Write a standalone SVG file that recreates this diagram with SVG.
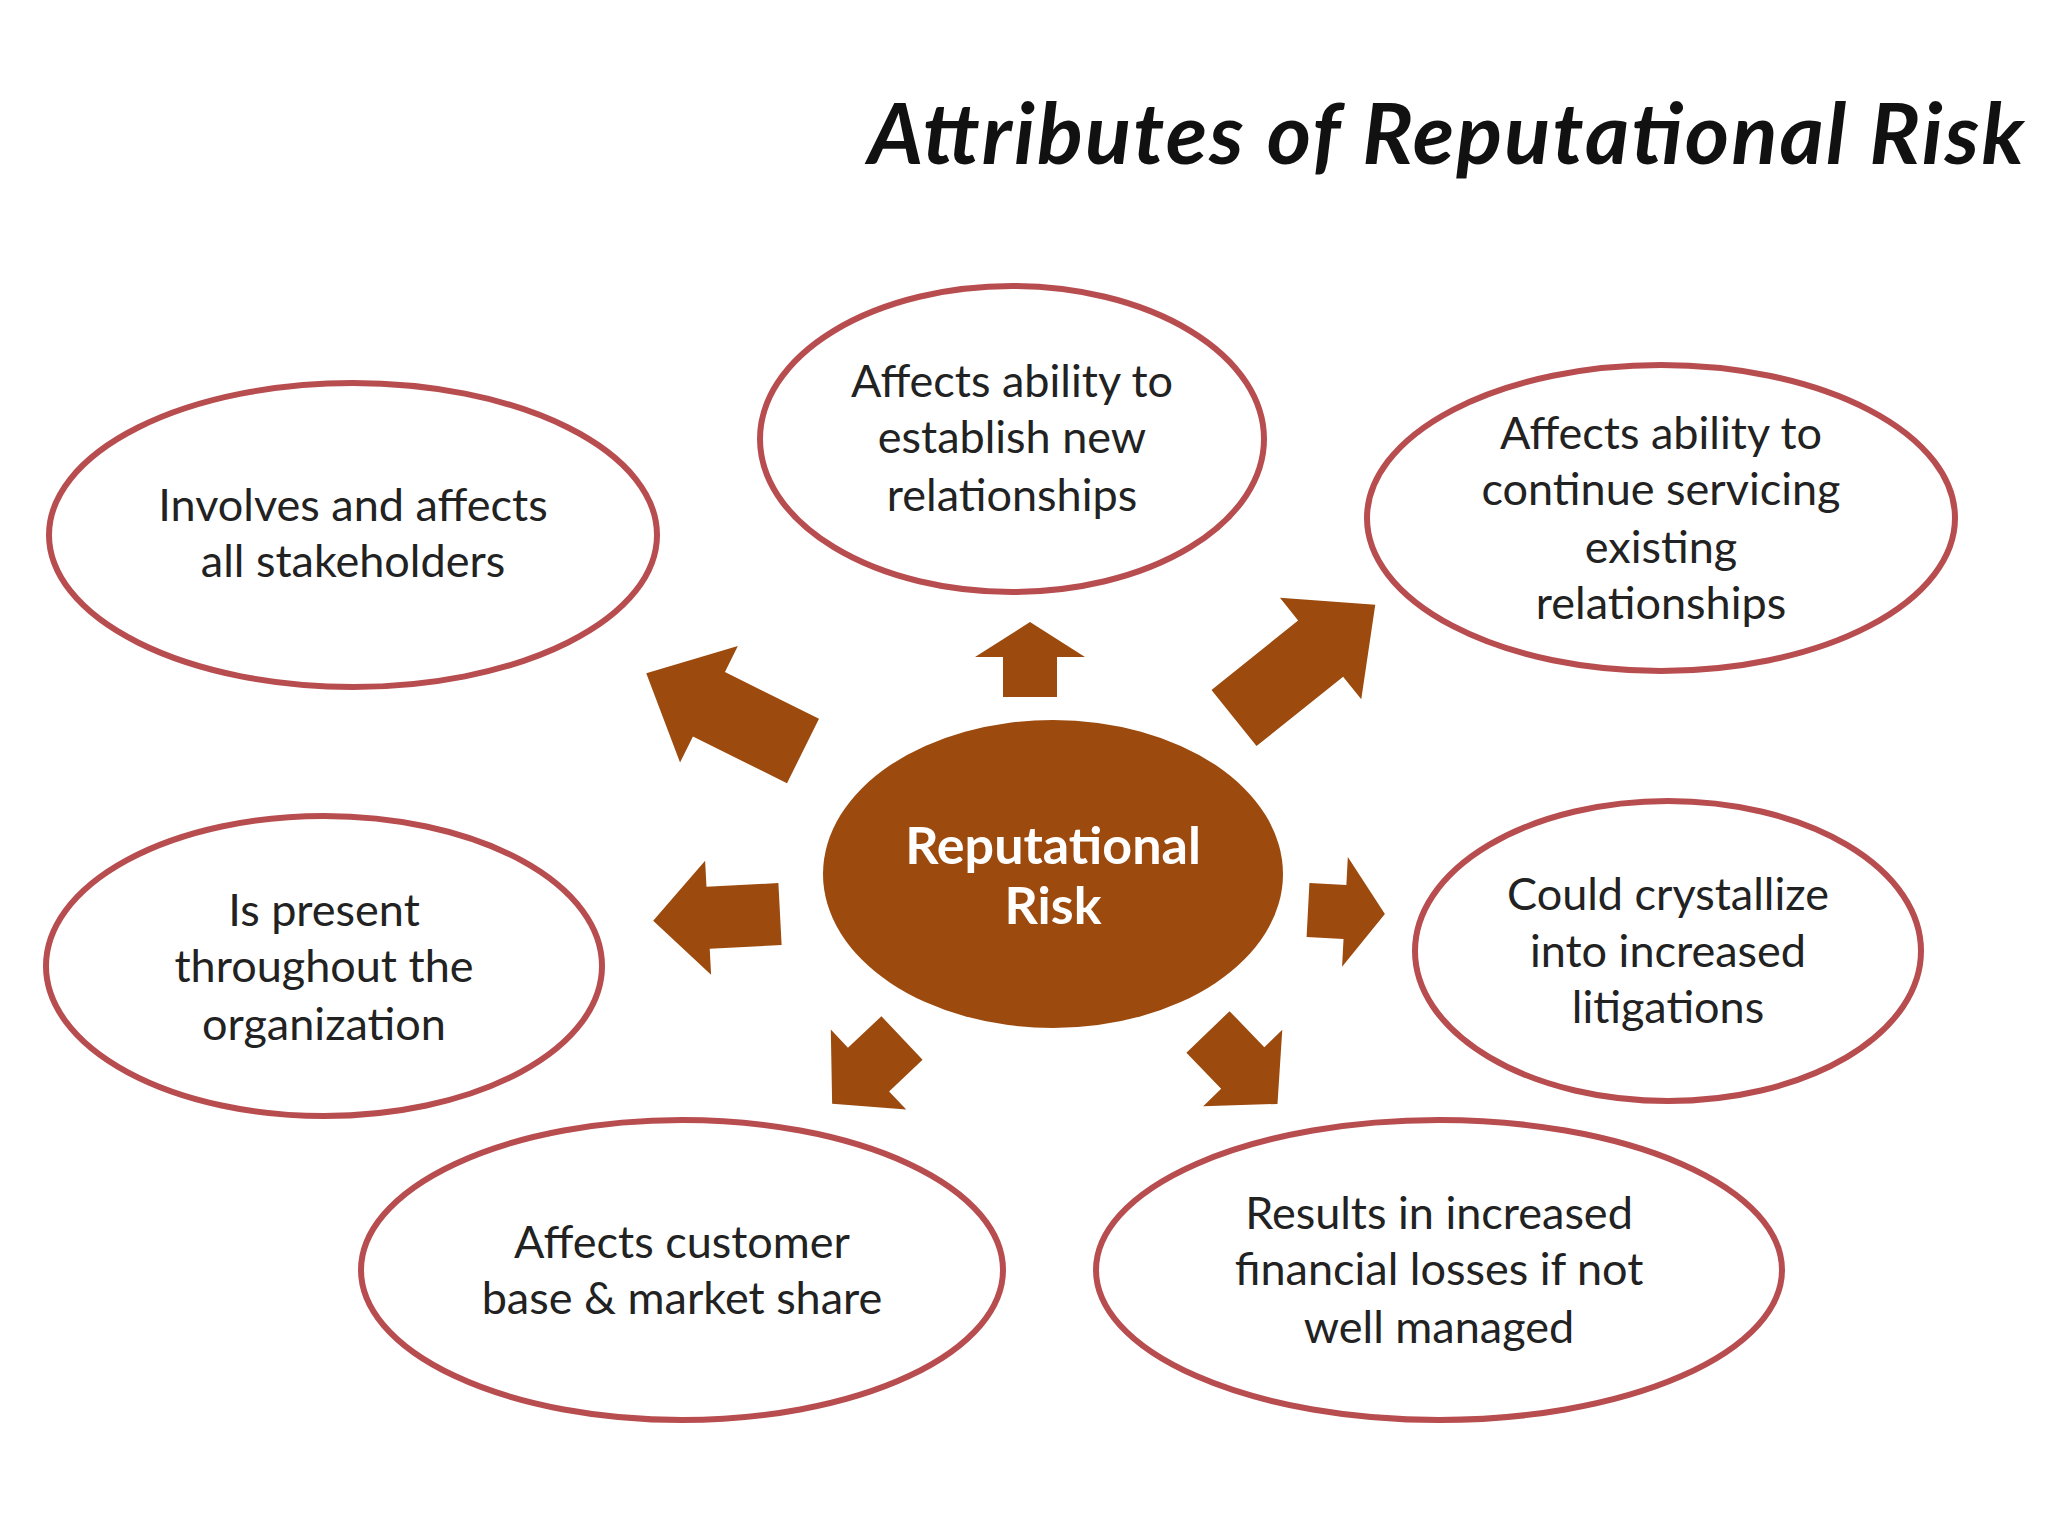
<svg xmlns="http://www.w3.org/2000/svg" width="2048" height="1536" viewBox="0 0 2048 1536">
<style>
.n{fill:#fff;stroke:#B84D50;stroke-width:6}
.t{font-family:Lato,"Open Sans",sans-serif;font-size:45px;fill:#222;text-anchor:middle;dominant-baseline:central}
.a{fill:#9C4A0E}
</style>
<rect width="2048" height="1536" fill="#fff"/>
<text x="2024" y="131" font-family="Lato,'Open Sans',sans-serif" font-size="85" font-weight="bold" font-style="italic" text-anchor="end" dominant-baseline="central" fill="#111" textLength="1156" lengthAdjust="spacing">Attributes of Reputational Risk</text>
<g id="connectors">
<polygon class="a" transform="translate(1030,697) rotate(-90)" points="0,-27 40,-27 40,-55 75,0 40,55 40,27 0,27"/>
<polygon class="a" transform="translate(1234,718) rotate(-38.7)" points="0,-36 111,-36 111,-65 181,0 111,65 111,36 0,36"/>
<polygon class="a" transform="translate(803,751) rotate(206.4)" points="0,-36 105,-36 105,-65 175,0 105,65 105,36 0,36"/>
<polygon class="a" transform="translate(780,914) rotate(177)" points="0,-31 72,-31 72,-57 127,0 72,57 72,31 0,31"/>
<polygon class="a" transform="translate(1308,910) rotate(3)" points="0,-27 37,-27 37,-55 77,0 37,55 37,27 0,27"/>
<polygon class="a" transform="translate(902,1038) rotate(136.7)" points="0,-30 46,-30 46,-55 96,0 46,55 46,30 0,30"/>
<polygon class="a" transform="translate(1208,1032) rotate(46)" points="0,-30 50,-30 50,-55 100,0 50,55 50,30 0,30"/>
</g>
<g id="n1"><ellipse class="n" cx="1012" cy="439" rx="252" ry="153"/>
<text class="t" x="1012" y="380">Affects ability to</text><text class="t" x="1012" y="436">establish new</text><text class="t" x="1012" y="494">relationships</text></g>
<g id="n2"><ellipse class="n" cx="353" cy="535" rx="304" ry="152"/>
<text class="t" x="353" y="504">Involves and affects</text><text class="t" x="353" y="560">all  stakeholders</text></g>
<g id="n3"><ellipse class="n" cx="1661" cy="518" rx="294" ry="153"/>
<text class="t" x="1661" y="432">Affects ability to</text><text class="t" x="1661" y="488">continue servicing</text><text class="t" x="1661" y="546">existing</text><text class="t" x="1661" y="602">relationships</text></g>
<g id="center"><ellipse cx="1053" cy="874" rx="230" ry="154" fill="#9C4A0E"/>
<text class="t" x="1053" y="844" style="fill:#fff;font-weight:bold;font-size:52px">Reputational</text>
<text class="t" x="1053" y="904" style="fill:#fff;font-weight:bold;font-size:52px">Risk</text></g>
<g id="n5"><ellipse class="n" cx="324" cy="966" rx="278" ry="150"/>
<text class="t" x="324" y="909">Is present</text><text class="t" x="324" y="965">throughout the</text><text class="t" x="324" y="1023">organization</text></g>
<g id="n6"><ellipse class="n" cx="1668" cy="951" rx="253" ry="150"/>
<text class="t" x="1668" y="893">Could crystallize</text><text class="t" x="1668" y="950">into increased</text><text class="t" x="1668" y="1006">litigations</text></g>
<g id="n7"><ellipse class="n" cx="682" cy="1270" rx="321" ry="150"/>
<text class="t" x="682" y="1241">Affects customer</text><text class="t" x="682" y="1297">base &amp; market share</text></g>
<g id="n8"><ellipse class="n" cx="1439" cy="1270" rx="343" ry="150"/>
<text class="t" x="1439" y="1212">Results in increased</text><text class="t" x="1439" y="1268">financial losses if not</text><text class="t" x="1439" y="1326">well managed</text></g>
</svg>
